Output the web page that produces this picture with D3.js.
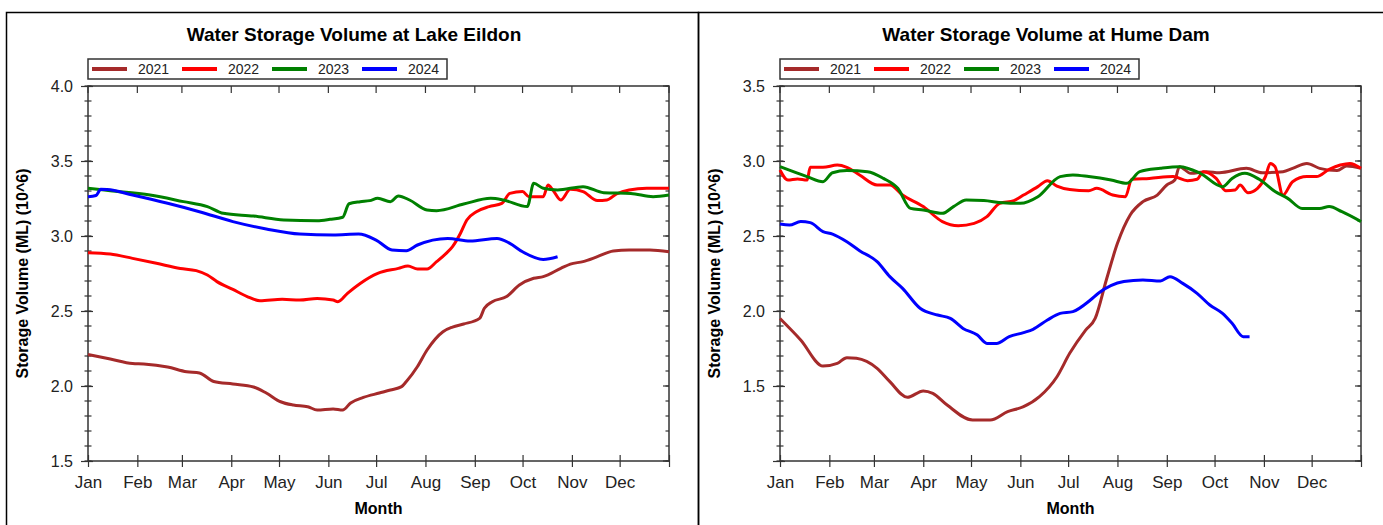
<!DOCTYPE html>
<html>
<head>
<meta charset="utf-8">
<script src="https://cdn.jsdelivr.net/npm/d3@7"></script>
<style>
  body { margin: 0; background: #fff; }
  svg { display: block; font-family: "Liberation Sans", Arial, sans-serif; }
</style>
</head>
<body>
<svg id="chart" width="1383" height="525"></svg>
<script>
// month labels and where each month starts (day of year)
const months = ['Jan', 'Feb', 'Mar', 'Apr', 'May', 'Jun', 'Jul', 'Aug', 'Sep', 'Oct', 'Nov', 'Dec'];
const monthStarts = [0, 31, 59, 90, 120, 151, 181, 212, 243, 273, 304, 334, 365];
const years = ['2021', '2022', '2023', '2024'];
const yearColors = ['#a52a2a', '#ff0000', '#008000', '#0000ff'];

const eildonTicks = [1.5, 2.0, 2.5, 3.0, 3.5, 4.0];
const humeTicks = [1.0, 1.5, 2.0, 2.5, 3.0, 3.5];

// [day of year, volume (ML x 10^6)]
const eildon2021 = [[0,2.21],[14,2.18],[28,2.15],[35,2.147],[50,2.127],[62,2.095],[70,2.087],[79,2.03],[91,2.013],[104,1.993],[112,1.953],[121,1.895],[129,1.873],[138,1.862],[144,1.84],[154,1.847],[160,1.84],[165,1.887],[173,1.924],[183,1.953],[190,1.973],[197,1.996],[200,2.03],[207,2.13],[213,2.24],[223,2.362],[229,2.393],[236,2.413],[246,2.451],[249,2.518],[254,2.562],[263,2.596],[271,2.673],[280,2.718],[286,2.729],[297,2.784],[303,2.813],[311,2.829],[320,2.862],[330,2.9],[340,2.907],[353,2.907],[365,2.895]];
const eildon2022 = [[0,2.889],[14,2.88],[28,2.851],[43,2.818],[58,2.784],[68,2.769],[75,2.74],[81,2.696],[91,2.644],[100,2.596],[108,2.569],[122,2.578],[133,2.573],[144,2.584],[154,2.573],[157,2.562],[163,2.618],[171,2.684],[182,2.751],[195,2.784],[201,2.8],[207,2.78],[213,2.78],[219,2.829],[225,2.884],[229,2.929],[234,3.018],[238,3.107],[244,3.162],[252,3.196],[260,3.218],[265,3.284],[273,3.296],[277,3.262],[286,3.262],[289,3.34],[292,3.307],[297,3.24],[303,3.311],[311,3.296],[320,3.236],[326,3.24],[332,3.28],[340,3.307],[351,3.318],[365,3.318]];
const eildon2023 = [[0,3.318],[14,3.302],[39,3.273],[60,3.229],[75,3.196],[85,3.151],[104,3.133],[123,3.107],[144,3.102],[152,3.111],[160,3.125],[164,3.215],[171,3.229],[177,3.236],[182,3.251],[190,3.229],[195,3.267],[202,3.24],[213,3.173],[219,3.169],[236,3.213],[253,3.251],[261,3.24],[276,3.196],[280,3.351],[286,3.318],[295,3.307],[311,3.329],[324,3.289],[341,3.284],[355,3.262],[365,3.273]];
const eildon2024 = [[0,3.262],[5,3.27],[8,3.311],[12,3.31],[28,3.273],[50,3.218],[70,3.162],[91,3.096],[112,3.047],[133,3.013],[154,3.007],[170,3.013],[181,2.973],[191,2.907],[200,2.902],[207,2.94],[226,2.984],[240,2.967],[257,2.984],[265,2.951],[273,2.895],[286,2.844],[295,2.862]];

const hume2021 = [[0,1.95],[13,1.807],[27,1.633],[36,1.651],[42,1.689],[48,1.685],[61,1.618],[69,1.529],[80,1.425],[90,1.467],[96,1.451],[105,1.373],[121,1.273],[132,1.273],[143,1.329],[153,1.362],[163,1.429],[174,1.562],[182,1.718],[192,1.873],[198,1.951],[205,2.207],[212,2.451],[220,2.64],[228,2.729],[237,2.773],[243,2.84],[248,2.873],[251,2.962],[258,2.918],[268,2.929],[276,2.922],[293,2.951],[303,2.922],[316,2.929],[322,2.951],[331,2.984],[339,2.951],[350,2.936],[356,2.967],[365,2.951]];
const hume2022 = [[0,2.94],[5,2.873],[11,2.88],[17,2.873],[19,2.958],[27,2.958],[36,2.973],[42,2.958],[50,2.907],[61,2.84],[69,2.84],[77,2.773],[90,2.696],[102,2.596],[112,2.569],[122,2.584],[130,2.629],[138,2.718],[147,2.736],[153,2.773],[162,2.829],[168,2.869],[174,2.833],[182,2.81],[194,2.802],[199,2.818],[209,2.773],[217,2.762],[221,2.878],[232,2.884],[247,2.896],[256,2.869],[262,2.878],[266,2.929],[274,2.884],[280,2.802],[286,2.807],[289,2.84],[294,2.789],[300,2.818],[305,2.896],[308,2.984],[311,2.962],[316,2.773],[322,2.862],[331,2.896],[337,2.896],[345,2.944],[352,2.973],[358,2.984],[365,2.951]];
const hume2023 = [[0,2.962],[17,2.896],[27,2.862],[33,2.922],[42,2.936],[55,2.929],[65,2.884],[74,2.818],[82,2.684],[90,2.673],[102,2.651],[109,2.696],[117,2.74],[128,2.736],[140,2.722],[151,2.718],[162,2.762],[176,2.896],[184,2.907],[194,2.896],[208,2.873],[218,2.851],[226,2.929],[239,2.951],[251,2.962],[264,2.918],[278,2.829],[284,2.884],[292,2.918],[301,2.878],[311,2.796],[319,2.751],[328,2.684],[339,2.684],[345,2.696],[353,2.662],[365,2.596]];
const hume2024 = [[0,2.58],[6,2.573],[13,2.596],[19,2.589],[27,2.529],[33,2.513],[42,2.462],[50,2.402],[61,2.329],[69,2.229],[77,2.151],[88,2.018],[99,1.973],[107,1.951],[115,1.884],[124,1.84],[130,1.784],[136,1.784],[144,1.829],[153,1.856],[159,1.878],[168,1.94],[176,1.984],[184,1.996],[195,2.073],[200,2.118],[216,2.196],[228,2.207],[239,2.2],[245,2.229],[253,2.184],[262,2.118],[270,2.04],[278,1.984],[284,1.918],[291,1.829],[295,1.829]];

const svg = d3.select('#chart');
const axisColor = '#333';
const textColor = '#222';

function renderPanel(offsetX, title, series, yDomain, yLabels) {
    const margin = { top: 86, left: 88 };
    const innerWidth = 581;
    const innerHeight = 375;

    const panel = svg.append('g').attr('transform', `translate(${offsetX},0)`);

    // panel frame
    panel.append('rect')
        .attr('x', 6.5).attr('y', 12.5)
        .attr('width', 692).attr('height', 600)
        .attr('fill', 'none')
        .attr('stroke', '#000')
        .attr('stroke-width', 1.5);

    panel.append('text')
        .attr('x', 354).attr('y', 41)
        .attr('text-anchor', 'middle')
        .attr('font-size', 19)
        .attr('font-weight', 'bold')
        .attr('fill', '#000')
        .text(title);

    // legend
    const legend = panel.append('g').attr('transform', 'translate(88,59)');
    legend.append('rect')
        .attr('width', 359).attr('height', 20)
        .attr('fill', '#fff')
        .attr('stroke', axisColor)
        .attr('stroke-width', 1.5);
    years.forEach((yr, i) => {
        const lx = 4 + i * 90;
        legend.append('line')
            .attr('x1', lx).attr('x2', lx + 35)
            .attr('y1', 10).attr('y2', 10)
            .attr('stroke', yearColors[i])
            .attr('stroke-width', 4);
        legend.append('text')
            .attr('x', lx + 46).attr('y', 15)
            .attr('font-size', 14)
            .attr('fill', textColor)
            .text(yr);
    });

    const g = panel.append('g').attr('transform', `translate(${margin.left},${margin.top})`);

    const x = d3.scaleLinear().domain([0, 365]).range([0, innerWidth]);
    const y = d3.scaleLinear().domain(yDomain).range([innerHeight, 0]);

    const minorTicks = d3.range(Math.round(yDomain[0] * 10), Math.round(yDomain[1] * 10) + 1)
        .map(d => d / 10);

    // frame of the plot
    g.append('rect')
        .attr('width', innerWidth).attr('height', innerHeight)
        .attr('fill', 'none')
        .attr('stroke', axisColor)
        .attr('stroke-width', 1.5);

    // minor ticks left + right
    g.selectAll('.minor-l').data(minorTicks).join('line')
        .attr('x1', -3.5).attr('x2', 3.5)
        .attr('y1', d => y(d)).attr('y2', d => y(d))
        .attr('stroke', axisColor).attr('stroke-width', 1.2);
    g.selectAll('.minor-r').data(minorTicks).join('line')
        .attr('x1', innerWidth - 3.5).attr('x2', innerWidth)
        .attr('y1', d => y(d)).attr('y2', d => y(d))
        .attr('stroke', axisColor).attr('stroke-width', 1.2);

    // y axis, major ticks and labels
    const yAxis = d3.axisLeft(y)
        .tickValues(yLabels)
        .tickFormat(d => d < 1.25 && yDomain[0] === 1.0 ? '' : d3.format('.1f')(d))
        .tickSize(7);
    const yAxisG = g.append('g').call(yAxis);
    yAxisG.select('.domain').remove();
    yAxisG.selectAll('.tick line').attr('x2', -7).attr('x1', 5).attr('stroke', axisColor).attr('stroke-width', 1.2);
    yAxisG.selectAll('.tick text')
        .attr('x', -15)
        .attr('font-size', 16)
        .attr('font-family', '"Liberation Sans", Arial, sans-serif')
        .attr('fill', textColor);
    g.selectAll('.major-r').data(yLabels).join('line')
        .attr('x1', innerWidth - 6).attr('x2', innerWidth)
        .attr('y1', d => y(d)).attr('y2', d => y(d))
        .attr('stroke', axisColor).attr('stroke-width', 1.2);

    // x axis
    const xAxis = d3.axisBottom(x)
        .tickValues(monthStarts)
        .tickFormat((d, i) => months[i] || '')
        .tickSize(6);
    const xAxisG = g.append('g')
        .attr('transform', `translate(0,${innerHeight})`)
        .call(xAxis);
    xAxisG.select('.domain').remove();
    xAxisG.selectAll('.tick line').attr('y1', -6).attr('stroke', axisColor).attr('stroke-width', 1.2);
    xAxisG.selectAll('.tick text')
        .attr('y', 27).attr('dy', 0)
        .attr('font-size', 17)
        .attr('font-family', '"Liberation Sans", Arial, sans-serif')
        .attr('fill', textColor);

    // top ticks
    g.selectAll('.top-tick').data(monthStarts).join('line')
        .attr('x1', d => x(d)).attr('x2', d => x(d))
        .attr('y1', 0).attr('y2', 7)
        .attr('stroke', axisColor).attr('stroke-width', 1.2);

    // axis labels
    g.append('text')
        .attr('transform', `translate(-60,${innerHeight / 2}) rotate(-90)`)
        .attr('text-anchor', 'middle')
        .attr('font-size', 16)
        .attr('font-weight', 'bold')
        .attr('fill', '#000')
        .text('Storage Volume (ML) (10^6)');

    g.append('text')
        .attr('x', innerWidth / 2)
        .attr('y', innerHeight + 53)
        .attr('text-anchor', 'middle')
        .attr('font-size', 16)
        .attr('font-weight', 'bold')
        .attr('fill', '#000')
        .text('Month');

    // the lines
    const line = d3.line()
        .x(d => x(d[0]))
        .y(d => y(d[1]))
        .curve(d3.curveMonotoneX);

    series.forEach((s, i) => {
        g.append('path')
            .datum(s)
            .attr('fill', 'none')
            .attr('stroke', yearColors[i])
            .attr('stroke-width', 3)
            .attr('stroke-linejoin', 'round')
            .attr('d', line);
    });
}

renderPanel(0, 'Water Storage Volume at Lake Eildon',
    [eildon2021, eildon2022, eildon2023, eildon2024], [1.5, 4.0], eildonTicks);
renderPanel(692, 'Water Storage Volume at Hume Dam',
    [hume2021, hume2022, hume2023, hume2024], [1.0, 3.5], humeTicks);
</script>
</body>
</html>
